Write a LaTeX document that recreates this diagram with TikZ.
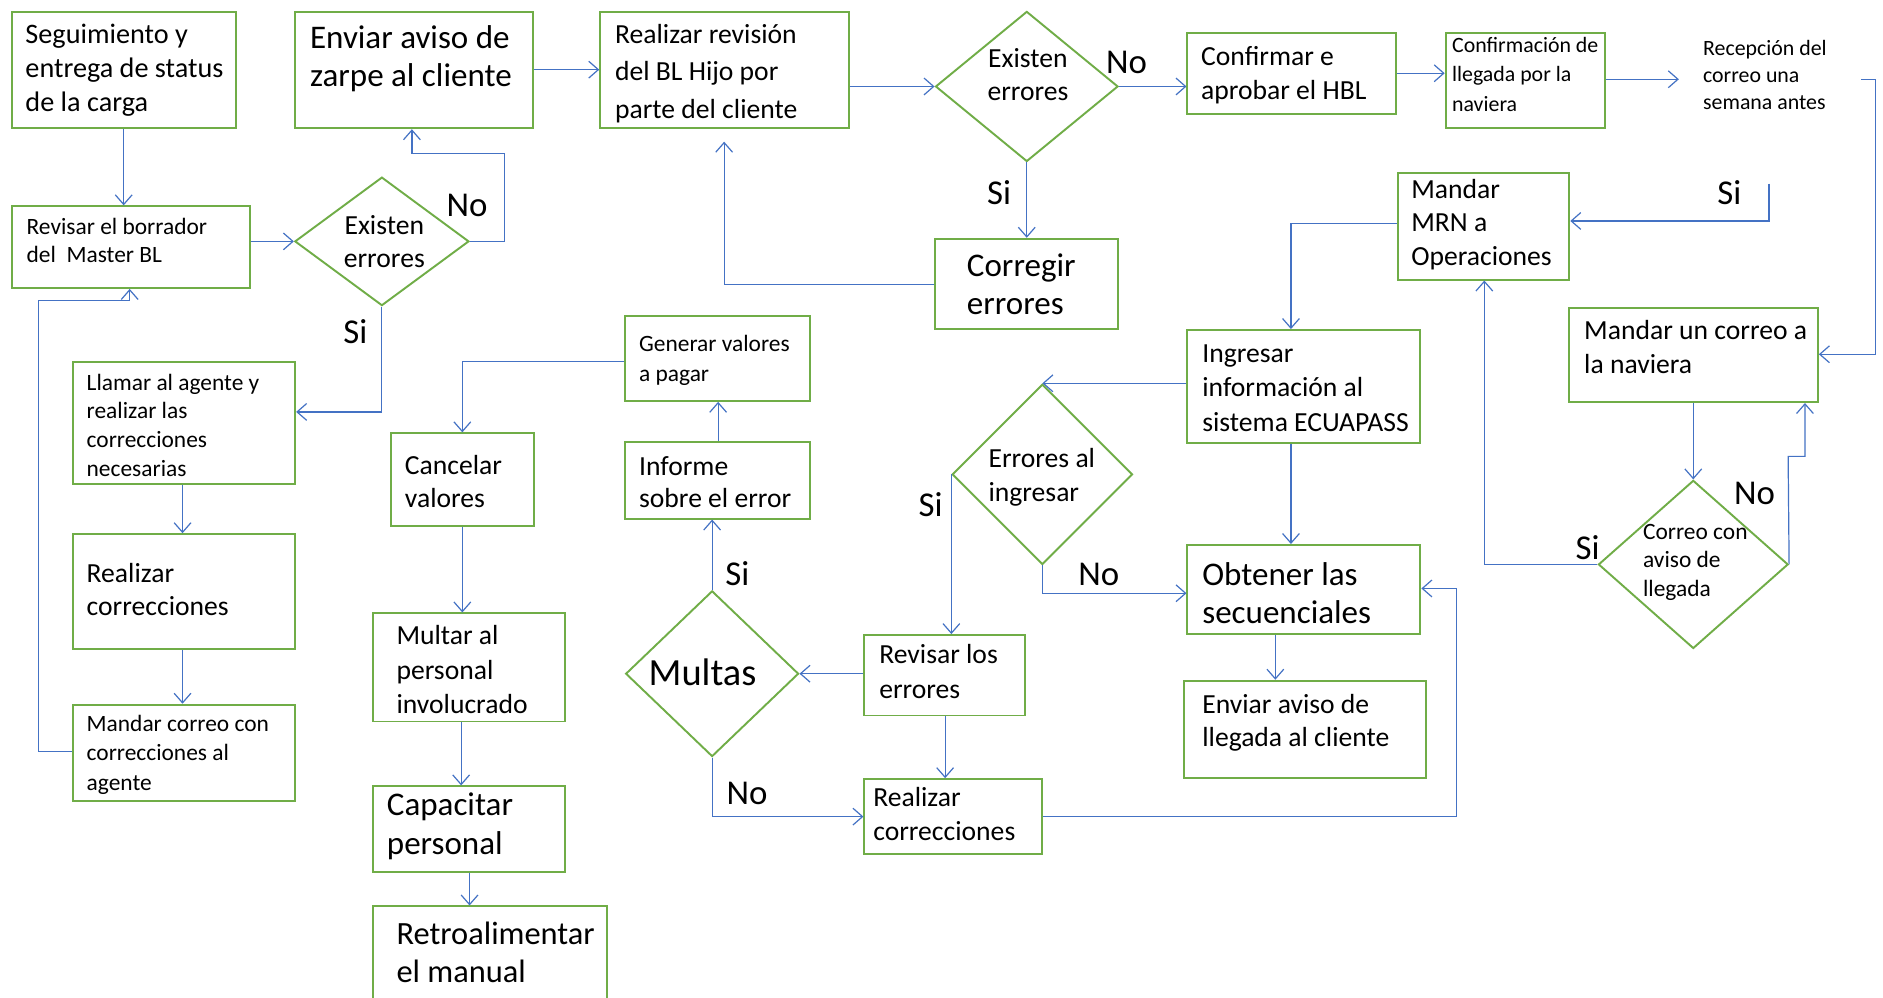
\documentclass[tikz,border=0pt]{standalone}
\usepackage{fontspec}
\setmainfont{Carlito}
\usetikzlibrary{arrows.meta,shapes.geometric,calc}
\definecolor{boxgreen}{HTML}{70AD47}
\definecolor{flowblue}{HTML}{4472C4}

% rectangular step: name, x1, y1, x2, y2
\newcommand\flowbox[5]{%
  \node[box, minimum width={(#4-#2)*1pt}, minimum height={(#5-#3)*1pt}] (#1) at (#2,#3) {};}
% text block: name, x, centre of first line, font size, line skip, lines
\newcommand\flowtext[6]{%
  \node[txt, font=\fontsize{#4}{#5}\selectfont] (#1) at (#2,{#3+0.3*#4})
    {\begin{tabular}[t]{@{}l@{}}#6\end{tabular}};}
% centred text block: name, x centre, centre of first line, font size, line skip, lines
\newcommand\flowctext[6]{%
  \node[ctxt, font=\fontsize{#4}{#5}\selectfont] (#1) at (#2,{#3+0.3*#4})
    {\begin{tabular}[t]{@{}c@{}}#6\end{tabular}};}

\begin{document}
\begin{tikzpicture}[x=1pt,y=-1pt,
  box/.style={draw=boxgreen, line width=1.6pt, inner sep=0pt, anchor=north west},
  dia/.style={diamond, draw=boxgreen, line width=1.6pt, inner sep=0pt},
  txt/.style={inner sep=0pt, anchor=base west},
  ctxt/.style={inner sep=0pt, anchor=base},
  flow/.style={draw=flowblue, line width=1pt, -{Straight Barb[length=8pt,width=14pt]}},
  lbl/.style={inner sep=0pt, font=\fontsize{29}{32}\selectfont},
]
\clip (0,0) rectangle (1568,831);
\fill[white] (0,0) rectangle (1568,831);

% ---- steps ----
\flowbox{seg}{9}{9}{196}{106}
\flowtext{seg-t}{21}{29}{23.5}{28.5}{Seguimiento y\\entrega de status\\de la carga}
\flowbox{zar}{245}{9}{443}{106}
\flowtext{zar-t}{258}{32}{27.5}{32}{Enviar aviso de\\zarpe al cliente}
\flowbox{rev}{499}{9}{706}{106}
\flowtext{rev-t}{512}{29}{23}{31.5}{Realizar revisión\\del BL Hijo por\\parte del cliente}
\flowbox{conf}{988}{27}{1162}{94}
\flowtext{conf-t}{1000}{48}{23}{28}{Confirmar e\\aprobar el HBL}
\flowbox{cnav}{1203}{27}{1336}{106}
\flowtext{cnav-t}{1209}{38}{18.2}{24.5}{Confirmación de\\llegada por la\\naviera}
\flowtext{recep}{1418}{41}{18.2}{22.5}{Recepción del\\correo una\\semana antes}

\flowbox{borr}{9}{171}{207}{239}
\flowtext{borr-t}{22}{189}{19.5}{24}{Revisar el borrador\\del\ \ Master BL}
\flowbox{llam}{60}{301}{245}{402}
\flowtext{llam-t}{72}{319}{19.5}{24}{Llamar al agente y\\realizar las\\correcciones\\necesarias}
\flowbox{rc1}{60}{444}{245}{540}
\flowtext{rc1-t}{72}{478}{23}{28}{Realizar\\correcciones}
\flowbox{mcor}{60}{586}{245}{666}
\flowtext{mcor-t}{72}{603}{19.5}{24.5}{Mandar correo con\\correcciones al\\agente}

\flowbox{gen}{520}{262}{674}{333}
\flowtext{gen-t}{532}{287}{19.5}{25}{Generar valores\\a pagar}
\flowbox{inf}{520}{367}{674}{431}
\flowtext{inf-t}{532}{389}{23}{27}{Informe\\sobre el error}
\flowbox{canc}{325}{360}{444}{437}
\flowtext{canc-t}{337}{388}{23}{28}{Cancelar\\valores}
\flowbox{mult}{310}{510}{470}{600}
\flowtext{mult-t}{330}{530}{23}{28.5}{Multar al\\personal\\involucrado}
\flowbox{capa}{310}{654}{470}{725}
\flowtext{capa-t}{322}{671}{27.5}{32}{Capacitar\\personal}
\flowbox{retro}{310}{754}{505}{845}
\flowtext{retro-t}{330}{778}{27}{32}{Retroalimentar\\el manual}

\flowbox{corr}{778}{198}{930}{273}
\flowtext{corr-t}{805}{222}{27.5}{32}{Corregir\\errores}
\flowbox{rlos}{719}{528}{853}{595}
\flowtext{rlos-t}{732}{546}{23}{29}{Revisar los\\errores}
\flowbox{rc2}{719}{648}{867}{710}
\flowtext{rc2-t}{727}{665}{23}{28}{Realizar\\correcciones}

\flowbox{ingr}{988}{274}{1182}{368}
\flowtext{ingr-t}{1001}{295}{23}{28.5}{Ingresar\\información al\\sistema ECUAPASS}
\flowbox{obt}{988}{453}{1182}{527}
\flowtext{obt-t}{1001}{479}{27.5}{32}{Obtener las\\secuenciales}
\flowbox{envl}{985}{566}{1187}{647}
\flowtext{envl-t}{1001}{587}{23}{28}{Enviar aviso de\\llegada al cliente}
\flowbox{mrn}{1163}{143}{1306}{232}
\flowtext{mrn-t}{1175}{158}{23}{28}{Mandar\\MRN a\\Operaciones}
\flowbox{mcn}{1306}{256}{1513}{334}
\flowtext{mcn-t}{1319}{276}{23}{28}{Mandar un correo a\\la naviera}

% ---- decisions ----
\node[dia, minimum width=145pt, minimum height=107pt] (d0) at (318,201) {};
\flowctext{d0-t}{320}{188}{23}{28}{Existen\\errores}
\node[dia, minimum width=152pt, minimum height=125pt] (d1) at (855,72) {};
\flowctext{d1-t}{856}{49}{23}{28}{Existen\\errores}
\node[dia, minimum width=144pt, minimum height=138pt] (dm) at (593,561) {};
\flowctext{dm-t}{585}{561}{32}{36}{Multas}
\node[dia, minimum width=150pt, minimum height=150pt] (de) at (868,395) {};
\flowtext{de-t}{823}{382}{23}{29}{Errores al\\ingresar}
\node[dia, minimum width=158pt, minimum height=140pt] (dc) at (1410,470) {};
\flowtext{dc-t}{1368}{443}{19.5}{24}{Correo con\\aviso de\\llegada}

% ---- branch labels ----
\node[lbl] (n1) at (389,171) {No};
\node[lbl] (s1) at (296,276) {Si};
\node[lbl] (n2) at (938,52) {No};
\node[lbl] (s2) at (832,160) {Si};
\node[lbl] (s3) at (1440,160) {Si};
\node[lbl] (n3) at (1461,411) {No};
\node[lbl] (s4) at (1322,456) {Si};
\node[lbl] (s5) at (775,420) {Si};
\node[lbl] (n4) at (915,478) {No};
\node[lbl] (s6) at (614,478) {Si};
\node[lbl] (n5) at (622,661) {No};

% free ends of connectors
\coordinate (recin) at (1398,66);
\coordinate (recout) at (1550,66);
\coordinate (siA) at (1473,153);
\coordinate (revin) at (603,118);

% ---- connectors ----
\draw[flow] (seg.south -| 103,0) -- (borr.north -| 103,0);
\draw[flow] (borr.east |- d0.west) -- (d0.west);
\draw[flow] (d0.east) -- (420,201) -- (420,128) -- (343,128) -- (zar.south -| 343,0);
\draw[flow] (d0.south) -- (318,343) -- (llam.east |- 0,343);
\draw[flow] (llam.south -| 152,0) -- (rc1.north -| 152,0);
\draw[flow] (rc1.south -| 152,0) -- (mcor.north -| 152,0);
\draw[flow] (mcor.west |- 0,626) -- (32,626) -- (32,250) -- (108,250) -- (borr.south -| 108,0);
\draw[flow] (zar.east |- 0,58) -- (rev.west |- 0,58);
\draw[flow] (rev.east |- d1.west) -- (d1.west);
\draw[flow] (d1.east) -- (conf.west |- d1.east);
\draw[flow] (d1.south) -- (corr.north -| d1.south);
\draw[flow] (corr.west |- 0,237) -- (603,237) -- (revin);
\draw[flow] (conf.east |- 0,61) -- (cnav.west |- 0,61);
\draw[flow] (cnav.east |- recin) -- (recin);
\draw[flow] (recout) -- (1562,66) -- (1562,295) -- (mcn.east |- 0,295);
\draw[flow] (siA) -- (1473,184) -- (mrn.east |- 0,184);
\draw[flow] (mrn.west |- 0,186) -- (1075,186) -- (ingr.north -| 1075,0);
\draw[flow] (mcn.south -| dc.north) -- (dc.north);
\draw[flow] (dc.west) -- (1236,470) -- (mrn.south -| 1236,0);
\draw[flow] (dc.east) -- (1489,380) -- (1503,380) -- (mcn.south -| 1503,0);
\draw[flow] (ingr.west |- de.north) -- (de.north);
\draw[flow] (ingr.south -| 1075,0) -- (obt.north -| 1075,0);
\draw[flow] (de.south) -- (868,494) -- (obt.west |- 0,494);
\draw[flow] (de.west) -- (rlos.north -| de.west);
\draw[flow] (rlos.west |- dm.east) -- (dm.east);
\draw[flow] (rlos.south -| 787,0) -- (rc2.north -| 787,0);
\draw[flow] (dm.north) -- (inf.south -| dm.north);
\draw[flow] (inf.north -| 598,0) -- (gen.south -| 598,0);
\draw[flow] (gen.west |- 0,301) -- (385,301) -- (canc.north -| 385,0);
\draw[flow] (canc.south -| 385,0) -- (mult.north -| 385,0);
\draw[flow] (mult.south -| 384,0) -- (capa.north -| 384,0);
\draw[flow] (capa.south -| 391,0) -- (retro.north -| 391,0);
\draw[flow] (dm.south) -- (593,680) -- (rc2.west |- 0,680);
\draw[flow] (rc2.east |- 0,680) -- (1213,680) -- (1213,490) -- (obt.east |- 0,490);
\draw[flow] (obt.south -| 1062,0) -- (envl.north -| 1062,0);
\end{tikzpicture}
\end{document}
